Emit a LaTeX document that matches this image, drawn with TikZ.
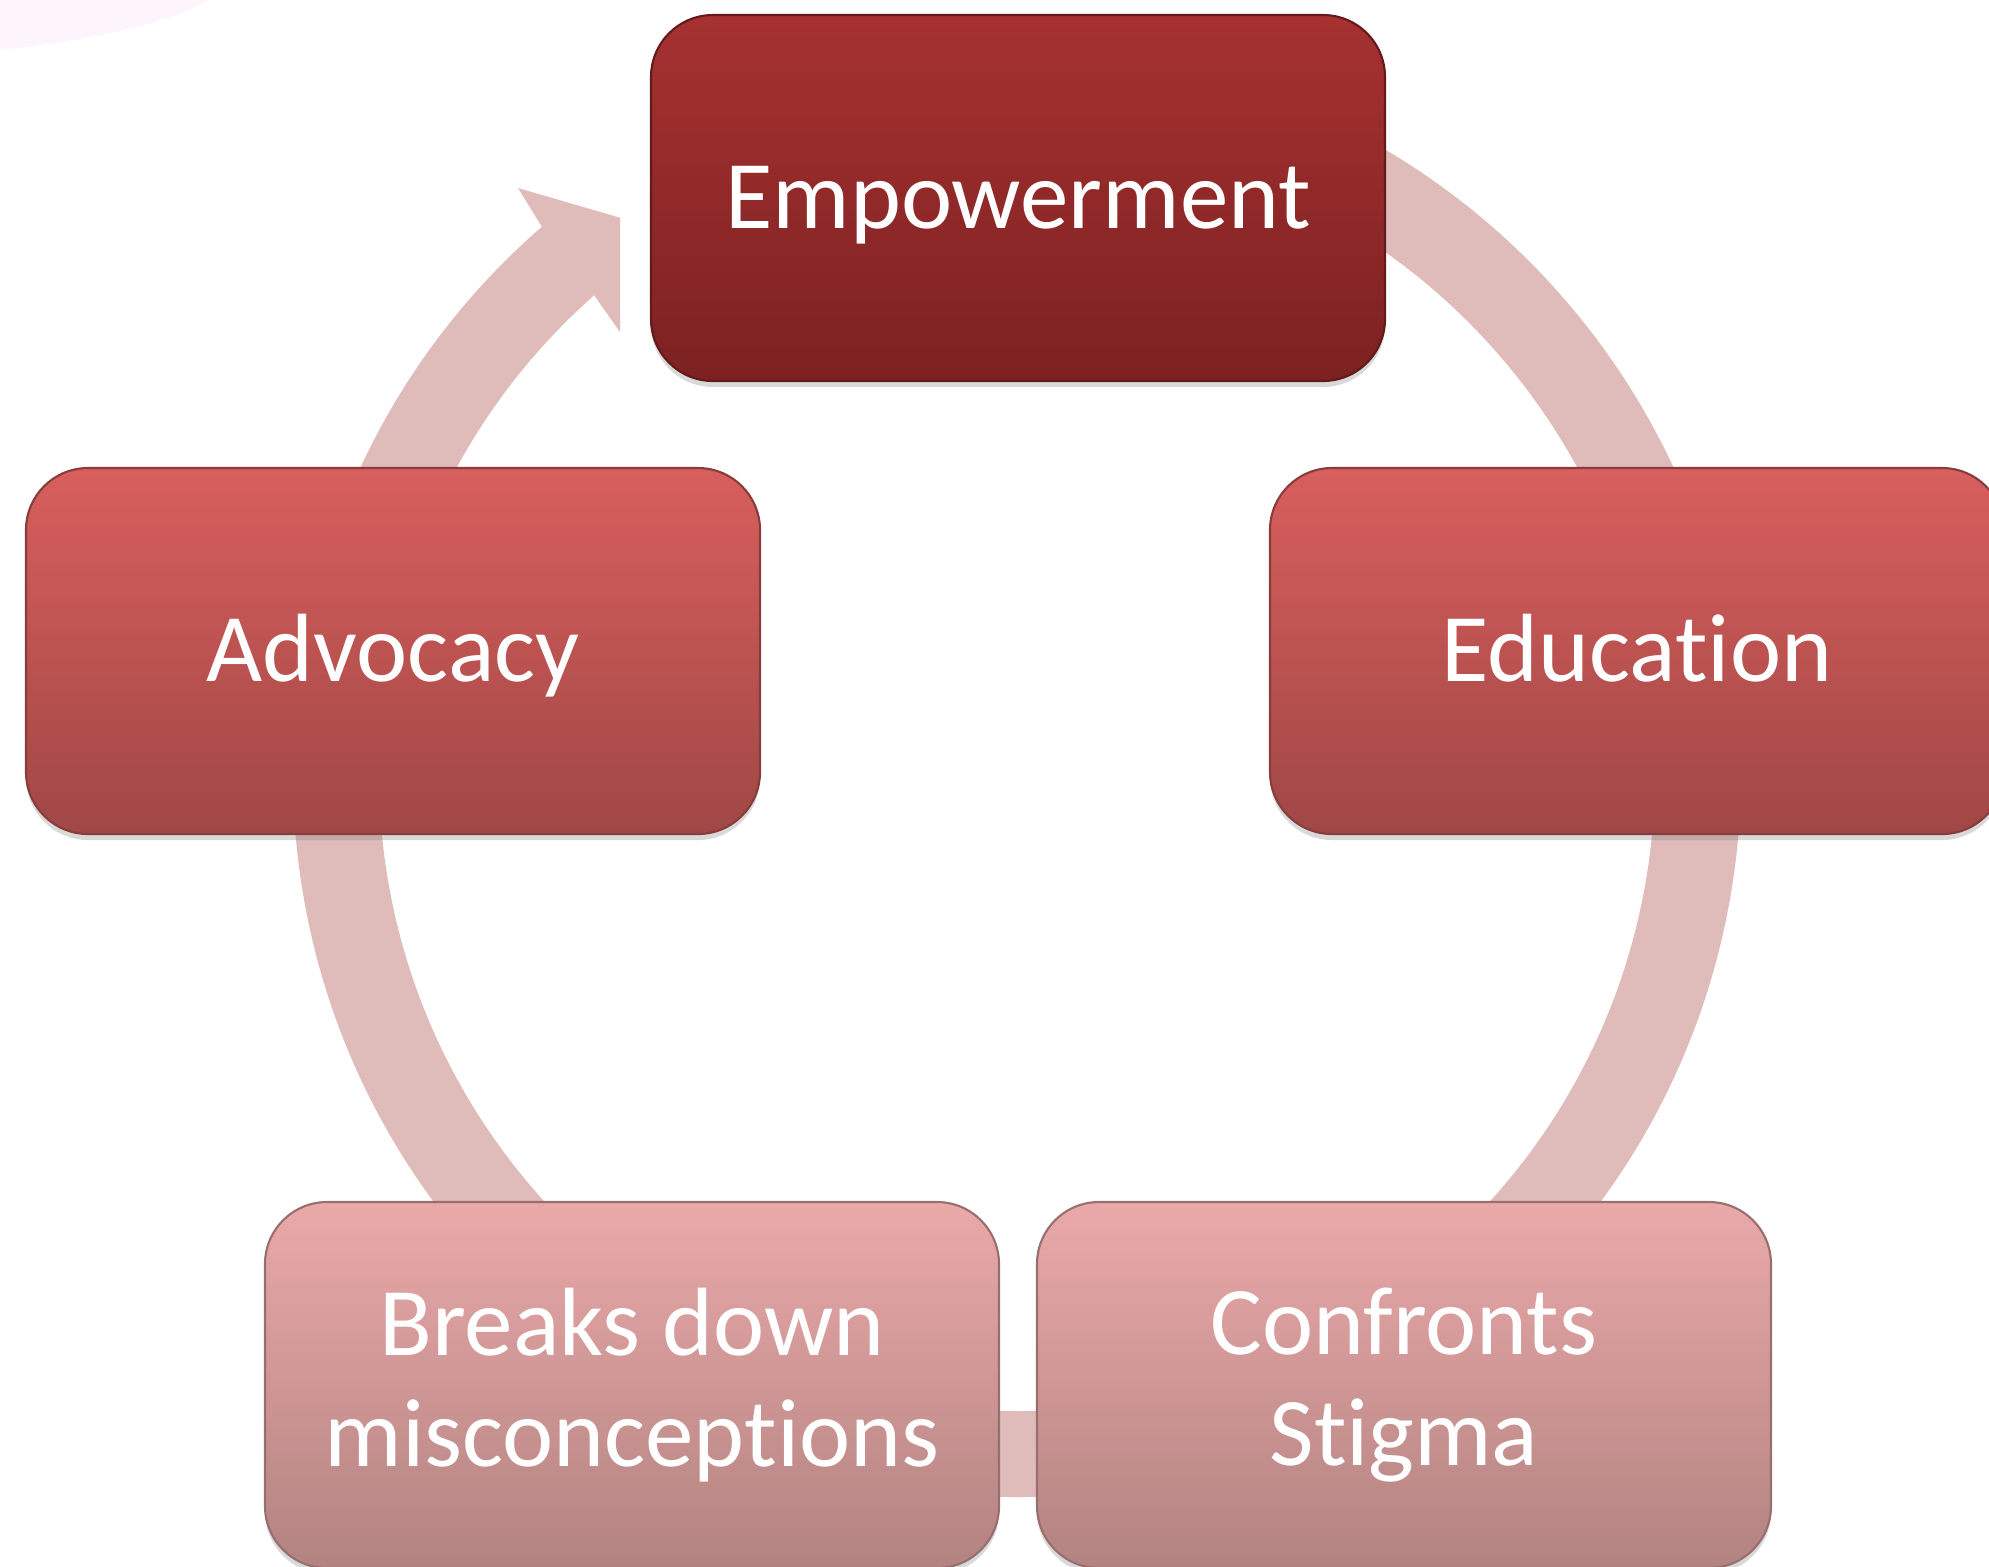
\documentclass[tikz,border=0pt]{standalone}
\usepackage{fontspec}
\setmainfont[Ligatures={NoCommon,NoContextual}]{Carlito}
\usetikzlibrary{shadows}
\definecolor{ringcol}{RGB}{223,187,186}
\definecolor{blush}{RGB}{254,244,251}
\definecolor{darktop}{RGB}{166,49,49}
\definecolor{darkbot}{RGB}{124,33,33}
\definecolor{midtop}{RGB}{216,95,93}
\definecolor{midbot}{RGB}{160,71,69}
\definecolor{paletop}{RGB}{234,169,169}
\definecolor{palebot}{RGB}{178,131,129}
\tikzset{stage/.style={draw,line width=0.6pt,rounded corners=0.62cm,
                       minimum width=7.34cm,minimum height=3.66cm,inner sep=0pt,
                       text=white,align=center,
                       font=\fontsize{27.6}{31.6}\selectfont,
                       drop shadow={opacity=0.3,shadow xshift=0cm,shadow yshift=-0.06cm}}}
\tikzset{oneline/.style={text height=0.78cm,text depth=0.18cm}}
\tikzset{topstage/.style={stage,draw=darkbot!80!black,top color=darktop,bottom color=darkbot}}
\tikzset{midstage/.style={stage,draw=midbot!85!black,top color=midtop,bottom color=midbot}}
\tikzset{lowstage/.style={stage,draw=palebot!85!black,top color=paletop,bottom color=palebot}}
\tikzset{ring/.style={draw=ringcol,line width=0.86cm}}

\begin{document}
\begin{tikzpicture}
    \clip (0,0) rectangle (19.89,-15.66);

    % faint corner tint
    \fill[blush] (0,0) -- (2.1,0) .. controls (1.5,-0.3) and (0.7,-0.42) .. (0,-0.5) -- cycle;

    % ring
    \coordinate (ctr) at (10.17,-7.73);
    \draw[ring] (ctr) ++(130:6.81) arc[start angle=130, end angle=440, radius=6.81];
    % arrow head, cut short before the top box
    \begin{scope}
        \clip (0,0) rectangle (6.20,-15.66);
        \fill[ringcol] (5.18,-1.88) -- (7.00,-2.41) -- (6.98,-4.43)
                       -- (5.94,-2.95) -- (5.42,-2.27) -- cycle;
    \end{scope}

    % boxes
    \node[topstage,oneline] (empow) at (10.18,-1.98) {Empowerment};
    \node[midstage,oneline] (advoc) at (3.93,-6.51) {Advocacy};
    \node[midstage,oneline] (educ)  at (16.37,-6.51) {Education};
    \node[lowstage] (breaks) at (6.32,-13.85) {Breaks down\\misconceptions};
    \node[lowstage] (confr)  at (14.04,-13.85) {Confronts\\Stigma};
\end{tikzpicture}
\end{document}
